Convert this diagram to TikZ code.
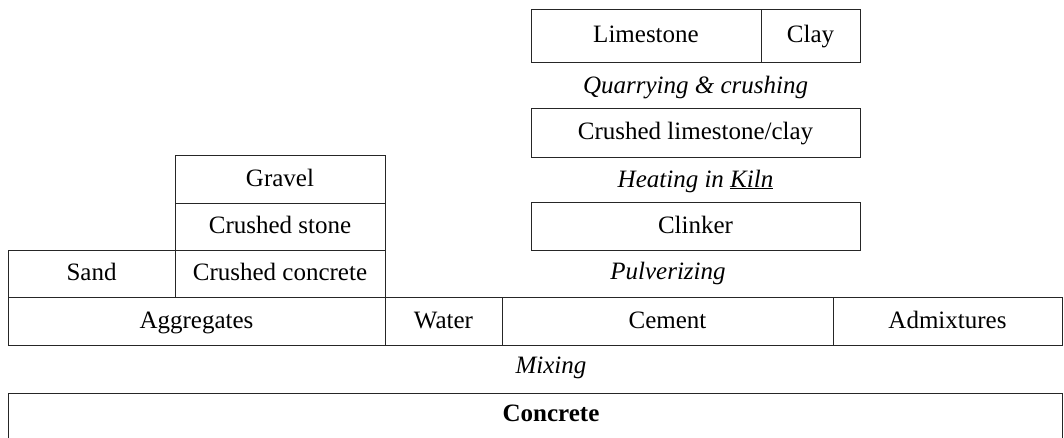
\documentclass[tikz,border=0pt]{standalone}
\usepackage{fontspec}
\setmainfont{Liberation Serif}
\begin{document}
\begin{tikzpicture}[x=1pt,y=-1pt,
  cell/.style={draw=black!85, line width=0.9pt, inner sep=0pt, text height=20pt, text depth=6pt, font=\fontsize{25}{29}\selectfont},
  step label/.style={inner sep=0pt, text height=20pt, text depth=6pt, font=\fontsize{25}{29}\selectfont\itshape}]
\useasboundingbox (0,0) rectangle (1064,437);
% cement chain
\node[cell, minimum width=230pt, minimum height=53pt] (lime) at (646,35.5) {Limestone};
\node[cell, minimum width=99pt, minimum height=53pt] (clay) at (810.5,35.5) {Clay};
\node[step label] (quarry) at (695.5,86) {Quarrying \& crushing};
\node[cell, minimum width=329pt, minimum height=49pt] (crushlc) at (695.5,132.5) {Crushed limestone/clay};
\node[step label] (heat) at (695.5,180) {Heating in \underline{Kiln}};
\node[cell, minimum width=329pt, minimum height=48pt] (clinker) at (695.5,226) {Clinker};
\node[step label] (pulv) at (668,272) {Pulverizing};
% aggregates
\node[cell, minimum width=210pt, minimum height=48pt] (gravel) at (280,179) {Gravel};
\node[cell, minimum width=210pt, minimum height=47pt] (cstone) at (280,226.5) {Crushed stone};
\node[cell, minimum width=210pt, minimum height=47pt] (cconc) at (280,273.5) {Crushed concrete};
\node[cell, minimum width=167pt, minimum height=47pt] (sand) at (91.5,273.5) {Sand};
% ingredients row
\node[cell, minimum width=377pt, minimum height=48pt] (aggr) at (196.5,321) {Aggregates};
\node[cell, minimum width=117pt, minimum height=48pt] (water) at (443.5,321) {Water};
\node[cell, minimum width=331pt, minimum height=48pt] (cement) at (667.5,321) {Cement};
\node[cell, minimum width=229pt, minimum height=48pt] (admix) at (947.5,321) {Admixtures};
\node[step label] (mixing) at (551,366) {Mixing};
% concrete (open at bottom)
\node[inner sep=0pt, text height=20pt, text depth=6pt, font=\fontsize{25}{29}\selectfont\bfseries] (concrete) at (551,414) {Concrete};
\draw[draw=black!85, line width=0.9pt] (8,440) -- (8,393) -- (1062,393) -- (1062,440);
\end{tikzpicture}
\end{document}
